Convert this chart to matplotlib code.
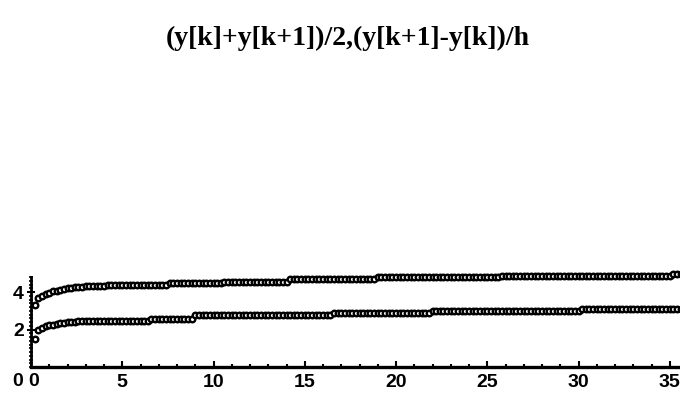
import numpy as np
import matplotlib.pyplot as plt

# step h = 0.2, points k = 1..178
h = 0.2
k = np.arange(1, 179)
t = k * h

# (y[k]+y[k+1])/2
mean_vals = [
    3.30, 3.69, 3.82, 3.90, 3.96, 4.04, 4.09, 4.13, 4.17, 4.21,
    4.25, 4.27, 4.29, 4.30, 4.32, 4.33, 4.33, 4.34, 4.35, 4.35,
    4.36, 4.36, 4.37, 4.37, 4.37, 4.37, 4.37, 4.37, 4.37, 4.37,
    4.37, 4.37, 4.37, 4.37, 4.37, 4.37, 4.37, 4.51, 4.51, 4.51,
    4.51, 4.51, 4.51, 4.51, 4.51, 4.51, 4.51, 4.51, 4.51, 4.51,
    4.51, 4.51, 4.57, 4.57, 4.57, 4.57, 4.57, 4.57, 4.57, 4.57,
    4.57, 4.57, 4.57, 4.57, 4.57, 4.57, 4.57, 4.57, 4.57, 4.57,
    4.69, 4.69, 4.69, 4.69, 4.69, 4.69, 4.69, 4.69, 4.69, 4.69,
    4.69, 4.69, 4.69, 4.69, 4.69, 4.69, 4.69, 4.69, 4.69, 4.69,
    4.69, 4.69, 4.69, 4.69, 4.79, 4.79, 4.79, 4.79, 4.79, 4.79,
    4.79, 4.79, 4.79, 4.79, 4.79, 4.79, 4.79, 4.79, 4.79, 4.79,
    4.79, 4.79, 4.79, 4.79, 4.79, 4.79, 4.79, 4.79, 4.79, 4.79,
    4.79, 4.79, 4.79, 4.79, 4.79, 4.79, 4.79, 4.79, 4.87, 4.87,
    4.87, 4.87, 4.87, 4.87, 4.87, 4.87, 4.87, 4.87, 4.87, 4.87,
    4.87, 4.87, 4.87, 4.87, 4.87, 4.87, 4.87, 4.87, 4.87, 4.87,
    4.87, 4.87, 4.87, 4.87, 4.87, 4.87, 4.87, 4.87, 4.87, 4.87,
    4.87, 4.87, 4.87, 4.87, 4.87, 4.87, 4.87, 4.87, 4.87, 4.87,
    4.87, 4.87, 4.87, 4.87, 4.87, 4.95, 4.95, 4.95,
]

# (y[k+1]-y[k])/h
diff_vals = [
    1.50, 1.98, 2.09, 2.17, 2.22, 2.27, 2.30, 2.33, 2.35, 2.38,
    2.41, 2.42, 2.44, 2.45, 2.46, 2.47, 2.48, 2.48, 2.48, 2.48,
    2.48, 2.48, 2.48, 2.48, 2.48, 2.48, 2.48, 2.48, 2.48, 2.48,
    2.48, 2.48, 2.58, 2.58, 2.58, 2.58, 2.58, 2.58, 2.58, 2.58,
    2.58, 2.58, 2.58, 2.58, 2.78, 2.78, 2.78, 2.78, 2.78, 2.78,
    2.78, 2.78, 2.78, 2.78, 2.78, 2.78, 2.78, 2.78, 2.78, 2.78,
    2.78, 2.78, 2.78, 2.78, 2.78, 2.78, 2.78, 2.78, 2.78, 2.78,
    2.78, 2.78, 2.78, 2.78, 2.78, 2.78, 2.78, 2.78, 2.78, 2.78,
    2.78, 2.78, 2.91, 2.91, 2.91, 2.91, 2.91, 2.91, 2.91, 2.91,
    2.91, 2.91, 2.91, 2.91, 2.91, 2.91, 2.91, 2.91, 2.91, 2.91,
    2.91, 2.91, 2.91, 2.91, 2.91, 2.91, 2.91, 2.91, 2.91, 2.98,
    2.98, 2.98, 2.98, 2.98, 2.98, 2.98, 2.98, 2.98, 2.98, 2.98,
    2.98, 2.98, 2.98, 2.98, 2.98, 2.98, 2.98, 2.98, 2.98, 2.98,
    2.98, 2.98, 2.98, 2.98, 2.98, 2.98, 2.98, 2.98, 2.98, 2.98,
    2.98, 2.98, 2.98, 2.98, 2.98, 2.98, 2.98, 2.98, 2.98, 2.98,
    3.10, 3.10, 3.10, 3.10, 3.10, 3.10, 3.10, 3.10, 3.10, 3.10,
    3.10, 3.10, 3.10, 3.10, 3.10, 3.10, 3.10, 3.10, 3.10, 3.10,
    3.10, 3.10, 3.10, 3.10, 3.10, 3.10, 3.10, 3.10,
]

x_ticks = [0, 5, 10, 15, 20, 25, 30, 35]
y_ticks = [2, 4]

W, H = 680, 397
fig = plt.figure(figsize=(W / 100, H / 100), dpi=100)

# axes box in pixels: origin at (31, 367)
x0, y0 = 31, 367
sx, sy = 18.25, 18.7
xmax = (W - x0) / sx
ymax = 5.0
ax = fig.add_axes([x0 / W, (H - y0) / H, (W - x0) / W, ymax * sy / H])

for vals in (mean_vals, diff_vals):
    ax.plot(t, vals, linestyle='none', marker='o', ms=4.0, mew=1.7,
            mec='black', mfc='white', clip_on=False)

ax.set_xlim(0, xmax)
ax.set_ylim(0, ymax)

for s in ('top', 'right'):
    ax.spines[s].set_visible(False)
ax.spines['bottom'].set_linewidth(2.4)
ax.spines['left'].set_linewidth(2.0)
ax.spines['left'].set_bounds(0, 4.8)

ax.set_xticks(x_ticks)
ax.set_xticklabels([''] + [str(v) for v in x_ticks[1:]])
ax.set_xticks(np.arange(0, 36, 1), minor=True)
ax.set_yticks(y_ticks)
ax.set_yticks(np.arange(0, 4.81, 0.2), minor=True)

ax.tick_params(axis='x', which='major', direction='in', length=4, width=1.5,
               pad=5, labelsize=14)
ax.tick_params(axis='x', which='minor', direction='in', length=2.5, width=1.5)
ax.tick_params(axis='y', which='major', direction='inout', length=6, width=1.5,
               pad=2, labelsize=14)
ax.tick_params(axis='y', which='minor', direction='inout', length=3, width=1.2)
for lab in ax.get_xticklabels() + ax.get_yticklabels():
    lab.set_fontfamily('Liberation Sans')
    lab.set_fontweight('bold')

# both zeros sit on the x label row
fig.text(18 / W, 1 - 381 / H, '0', ha='center', va='center',
         fontsize=14, fontweight='bold', family='Liberation Sans')
fig.text(34 / W, 1 - 381 / H, '0', ha='center', va='center',
         fontsize=14, fontweight='bold', family='Liberation Sans')

fig.text(348 / W, 1 - 38 / H, '(y[k]+y[k+1])/2,(y[k+1]-y[k])/h',
         ha='center', va='center', fontsize=20, fontweight='bold',
         family='Liberation Serif')

fig.savefig('out.png', dpi=100)
